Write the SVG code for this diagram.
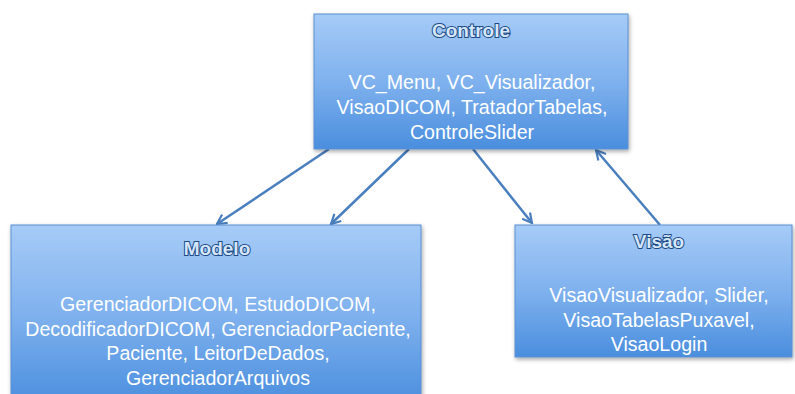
<svg xmlns="http://www.w3.org/2000/svg" width="795" height="394" viewBox="0 0 795 394">
  <defs>
    <linearGradient id="boxGrad" x1="0" y1="0" x2="0" y2="1">
      <stop offset="0" stop-color="#a6cbf7"/>
      <stop offset="0.5" stop-color="#7fb1ee"/>
      <stop offset="1" stop-color="#4a8ede"/>
    </linearGradient>
    <filter id="shadow" x="-5%" y="-5%" width="112%" height="120%">
      <feDropShadow dx="1" dy="2" stdDeviation="2" flood-color="#000" flood-opacity="0.35"/>
    </filter>
    <marker id="arrow" markerUnits="userSpaceOnUse" viewBox="0 0 12 12" markerWidth="12" markerHeight="12" refX="10.5" refY="6" orient="auto">
      <path d="M1,1 L10.5,6 L1,11" fill="none" stroke="#4a7fbf" stroke-width="2.2" stroke-linejoin="miter"/>
    </marker>
  </defs>
  <style>
    .box { fill: url(#boxGrad); stroke: #5b8fd0; stroke-width: 1; filter: url(#shadow); }
    .title { font-family: "Liberation Sans", Arial, sans-serif; font-weight: bold; font-size: 19px; fill: #d6e7fb; stroke: #1f4a86; stroke-width: 2; paint-order: stroke; text-anchor: middle; }
    .body { font-family: "Liberation Sans", Arial, sans-serif; font-size: 19.6px; fill: #ffffff; text-anchor: middle; }
    .conn { stroke: #4a7fbf; stroke-width: 2.5; fill: none; marker-end: url(#arrow); }
  </style>
  <rect width="795" height="394" fill="#ffffff"/>

  <g id="connectors">
    <line class="conn" x1="329" y1="149" x2="217" y2="224"/>
    <line class="conn" x1="409" y1="149" x2="331" y2="224"/>
    <line class="conn" x1="473" y1="149" x2="532" y2="223"/>
    <line class="conn" x1="660" y1="225" x2="596" y2="150"/>
  </g>

  <g id="controle">
    <rect class="box" x="314" y="14" width="314" height="135"/>
    <text class="title" x="471" y="37">Controle</text>
    <text class="body" x="472" y="89">VC_Menu, VC_Visualizador,</text>
    <text class="body" x="472" y="114">VisaoDICOM, TratadorTabelas,</text>
    <text class="body" x="472" y="139">ControleSlider</text>
  </g>

  <g id="modelo">
    <rect class="box" x="11" y="225" width="410" height="180"/>
    <text class="title" x="217" y="255">Modelo</text>
    <text class="body" x="218" y="311">GerenciadorDICOM, EstudoDICOM,</text>
    <text class="body" x="218" y="336">DecodificadorDICOM, GerenciadorPaciente,</text>
    <text class="body" x="218" y="360">Paciente, LeitorDeDados,</text>
    <text class="body" x="218" y="385">GerenciadorArquivos</text>
  </g>

  <g id="visao">
    <rect class="box" x="515" y="225" width="277" height="132"/>
    <text class="title" x="659" y="248">Visão</text>
    <text class="body" x="659" y="302">VisaoVisualizador, Slider,</text>
    <text class="body" x="659" y="327">VisaoTabelasPuxavel,</text>
    <text class="body" x="659" y="351">VisaoLogin</text>
  </g>
</svg>
